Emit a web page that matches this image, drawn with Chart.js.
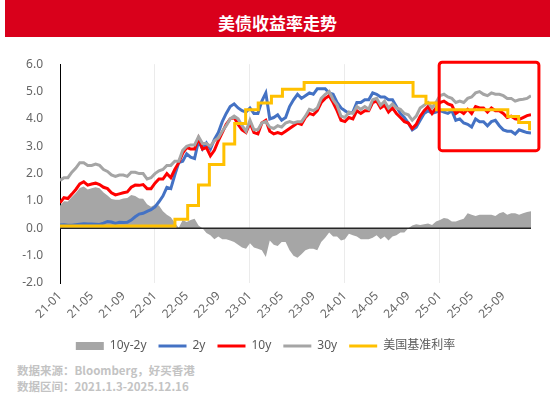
<!DOCTYPE html>
<html lang="zh">
<head>
<meta charset="UTF-8">
<title>美债收益率走势</title>
<script src="https://cdn.jsdelivr.net/npm/chart.js"></script>
<style>
  html, body { margin: 0; padding: 0; background: #fff; }
  body { width: 554px; height: 399px; position: relative; overflow: hidden; font-family: 'Noto Sans CJK SC', 'Noto Sans', sans-serif; }
  .titulo {
    position: absolute; left: 5px; top: 0; width: 545px; height: 33px; padding-top: 4px;
    background: #d9001b; color: #fff; font-weight: bold; font-size: 17px;
    text-align: center; line-height: 37px;
  }
  .grafico { position: absolute; left: 0; top: 40px; width: 554px; height: 322px; }
  .fuente {
    position: absolute; left: 17px; top: 362px; font-size: 11.5px; font-weight: bold;
    color: #c3c3c3; line-height: 16px;
  }
</style>
</head>
<body>
<div class="titulo">美债收益率走势</div>
<div class="grafico"><canvas id="grafico"></canvas></div>
<div class="fuente">数据来源：Bloomberg，好买香港<br>数据区间：2021.1.3-2025.12.16</div>

<script>
// meses desde 2021-01 ; series cada medio mes
const monthStep = 0.5;
const tickMonths = [0, 4, 8, 12, 16, 20, 24, 28, 32, 36, 40, 44, 48, 52, 56];
const tickLabels = ['21-01', '21-05', '21-09', '22-01', '22-05', '22-09', '23-01', '23-05',
  '23-09', '24-01', '24-05', '24-09', '25-01', '25-05', '25-09'];

const spread = [
  0.82, 0.99, 0.98, 1.14, 1.29, 1.47, 1.53, 1.42, 1.46, 1.50, 1.46, 1.31, 1.20, 1.07, 1.04, 1.04, 1.09, 1.11, 1.22, 1.18, 1.09, 1.08, 0.88, 0.79,
  0.87, 0.83, 0.62, 0.50, 0.40, 0.20, 0.02, 0.30, 0.23, 0.30, 0.35, 0.10, 0.00, -0.17, -0.25, -0.40, -0.30, -0.40, -0.40, -0.45, -0.50, -0.60, -0.70, -0.75,
  -0.55, -0.70, -0.75, -0.80, -1.05, -0.45, -0.60, -0.65, -0.50, -0.50, -0.80, -1.00, -1.08, -0.95, -0.80, -0.75, -0.75, -0.80, -0.50, -0.35, -0.15, -0.30, -0.30, -0.45,
  -0.40, -0.20, -0.25, -0.30, -0.40, -0.40, -0.40, -0.35, -0.25, -0.40, -0.30, -0.45, -0.30, -0.25, -0.15, -0.15, 0.00, 0.10, 0.15, 0.12, 0.15, 0.18, 0.12, 0.25,
  0.30, 0.38, 0.35, 0.25, 0.25, 0.30, 0.35, 0.55, 0.50, 0.45, 0.50, 0.50, 0.50, 0.50, 0.45, 0.55, 0.60, 0.50, 0.55, 0.55, 0.50, 0.55, 0.60, 0.62
];
const y2 = [
  0.12, 0.13, 0.11, 0.11, 0.13, 0.15, 0.17, 0.16, 0.16, 0.15, 0.14, 0.19, 0.25, 0.23, 0.18, 0.22, 0.21, 0.22, 0.30, 0.42, 0.52, 0.55, 0.62, 0.68,
  0.78, 0.97, 1.18, 1.50, 1.45, 1.95, 2.40, 2.45, 2.72, 2.60, 2.55, 3.20, 2.90, 3.12, 2.90, 3.25, 3.50, 3.90, 4.20, 4.45, 4.55, 4.40, 4.30, 4.25,
  4.40, 4.20, 4.20, 4.65, 4.95, 4.00, 4.05, 4.15, 3.95, 4.05, 4.45, 4.70, 4.90, 4.75, 4.85, 4.95, 4.90, 5.10, 5.10, 5.10, 4.95, 4.90, 4.60, 4.40,
  4.30, 4.20, 4.25, 4.60, 4.60, 4.70, 4.70, 4.95, 4.90, 4.80, 4.80, 4.70, 4.70, 4.45, 4.20, 4.05, 3.85, 3.60, 3.70, 3.95, 4.20, 4.30, 4.20, 4.25,
  4.30, 4.25, 4.20, 4.30, 3.95, 4.00, 3.85, 3.80, 3.70, 4.00, 3.90, 3.90, 3.75, 3.90, 3.95, 3.75, 3.60, 3.55, 3.55, 3.45, 3.60, 3.55, 3.50, 3.48
];
const y10 = [
  0.93, 1.12, 1.09, 1.25, 1.42, 1.62, 1.70, 1.58, 1.62, 1.65, 1.60, 1.50, 1.45, 1.30, 1.22, 1.26, 1.30, 1.33, 1.50, 1.58, 1.57, 1.60, 1.45, 1.45,
  1.65, 1.80, 1.80, 2.00, 1.85, 2.15, 2.40, 2.75, 2.95, 2.90, 2.90, 3.30, 2.90, 2.95, 2.65, 2.85, 3.20, 3.50, 3.80, 4.00, 4.05, 3.80, 3.60, 3.50,
  3.85, 3.50, 3.45, 3.85, 3.95, 3.55, 3.45, 3.50, 3.45, 3.55, 3.65, 3.75, 3.85, 3.80, 4.05, 4.20, 4.15, 4.30, 4.60, 4.75, 4.85, 4.60, 4.30, 3.95,
  3.90, 4.05, 4.00, 4.30, 4.20, 4.30, 4.30, 4.60, 4.65, 4.40, 4.50, 4.25, 4.40, 4.20, 4.05, 3.90, 3.85, 3.65, 3.80, 4.10, 4.30, 4.45, 4.20, 4.40,
  4.60, 4.65, 4.55, 4.50, 4.20, 4.30, 4.20, 4.35, 4.20, 4.45, 4.40, 4.40, 4.25, 4.40, 4.30, 4.30, 4.20, 4.05, 4.10, 4.00, 3.98, 4.05, 4.12, 4.15
];
const y30 = [
  1.75, 1.85, 1.85, 2.05, 2.20, 2.40, 2.40, 2.30, 2.30, 2.35, 2.30, 2.15, 2.08, 1.95, 1.90, 1.95, 1.95, 1.90, 2.05, 2.05, 2.00, 2.00, 1.80, 1.85,
  2.00, 2.10, 2.15, 2.30, 2.30, 2.45, 2.45, 2.85, 3.00, 3.05, 3.05, 3.35, 3.10, 3.10, 3.00, 3.20, 3.30, 3.55, 3.75, 4.00, 4.10, 4.00, 3.75, 3.55,
  3.95, 3.60, 3.60, 3.85, 3.90, 3.70, 3.65, 3.75, 3.70, 3.85, 3.90, 3.85, 3.90, 3.90, 4.10, 4.35, 4.30, 4.40, 4.75, 4.90, 5.00, 4.70, 4.50, 4.10,
  4.05, 4.25, 4.20, 4.45, 4.35, 4.45, 4.35, 4.70, 4.75, 4.50, 4.65, 4.40, 4.55, 4.40, 4.35, 4.20, 4.15, 3.95, 4.10, 4.40, 4.50, 4.60, 4.40, 4.60,
  4.85, 4.90, 4.80, 4.75, 4.60, 4.65, 4.60, 4.75, 4.80, 4.95, 5.00, 4.90, 4.85, 4.95, 4.90, 4.90, 4.85, 4.75, 4.75, 4.65, 4.70, 4.72, 4.75, 4.85
];
// 美国基准利率: mes del cambio y nivel
const fedMonths = [0, 14.52, 16.13, 17.5, 18.87, 20.7, 22.07, 23.45, 25.04, 26.71, 28.1, 30.84, 44.6, 46.23, 47.58, 56.57, 57.94, 59.32, 59.5];
const fedRate = [0.08, 0.33, 0.83, 1.58, 2.33, 3.08, 3.83, 4.33, 4.58, 4.83, 5.08, 5.33, 4.83, 4.58, 4.33, 4.09, 3.87, 3.64, 3.64];

// recuadro rojo (meses / valores)
const recuadro = { x0: 47.9, x1: 60.5, yTop: 6.07, yBottom: 2.84 };

const conX = arr => arr.map((v, i) => ({ x: i * monthStep, y: v }));

const lineaCero = {
  id: 'lineaCero',
  afterDatasetDraw(chart, args) {
    if (args.index !== 0) return;
    const { ctx, chartArea, scales } = chart;
    const y0 = scales.y.getPixelForValue(0);
    ctx.save();
    ctx.strokeStyle = '#262626';
    ctx.lineWidth = 1.5;
    ctx.beginPath();
    ctx.moveTo(chartArea.left, y0);
    ctx.lineTo(chartArea.right, y0);
    ctx.stroke();
    ctx.restore();
  }
};

const marcoRojo = {
  id: 'marcoRojo',
  afterDraw(chart) {
    const { ctx, scales } = chart;
    const x0 = scales.x.getPixelForValue(recuadro.x0);
    const x1 = scales.x.getPixelForValue(recuadro.x1);
    const y0 = scales.y.getPixelForValue(recuadro.yTop);
    const y1 = scales.y.getPixelForValue(recuadro.yBottom);
    ctx.save();
    ctx.strokeStyle = '#ff0000';
    ctx.lineWidth = 3;
    ctx.beginPath();
    ctx.roundRect(x0, y0, x1 - x0, y1 - y0, 3);
    ctx.stroke();
    ctx.restore();
  }
};

const fuenteTxt = { family: "'Noto Sans', 'Noto Sans CJK SC', sans-serif", size: 12 };

new Chart(document.getElementById('grafico'), {
  type: 'line',
  data: {
    datasets: [
      { label: '10y-2y', data: conX(spread), fill: 'origin', backgroundColor: '#a6a6a6',
        borderColor: '#a6a6a6', borderWidth: 0, pointStyle: 'rect', order: 5 },
      { label: '2y', data: conX(y2), borderColor: '#4472c4', backgroundColor: '#4472c4',
        borderWidth: 3, pointStyle: 'line', order: 3 },
      { label: '10y', data: conX(y10), borderColor: '#ff0000', backgroundColor: '#ff0000',
        borderWidth: 3, pointStyle: 'line', order: 2 },
      { label: '30y', data: conX(y30), borderColor: '#a5a5a5', backgroundColor: '#a5a5a5',
        borderWidth: 3, pointStyle: 'line', order: 1 },
      { label: '美国基准利率', data: fedMonths.map((m, i) => ({ x: m, y: fedRate[i] })),
        borderColor: '#ffc000', backgroundColor: '#ffc000', borderWidth: 3, stepped: true,
        pointStyle: 'line', order: 0 }
    ]
  },
  options: {
    responsive: true,
    maintainAspectRatio: false,
    animation: false,
    elements: { point: { radius: 0, hoverRadius: 0 }, line: { tension: 0 } },
    layout: { padding: { top: 19, right: 23, left: 0, bottom: 0 } },
    scales: {
      x: {
        type: 'linear', min: 0, max: 59.5,
        afterBuildTicks: s => { s.ticks = tickMonths.map(v => ({ value: v })); },
        afterFit: s => { s.height = 45; },
        ticks: {
          autoSkip: false, minRotation: 45, maxRotation: 45, padding: 6, color: '#666', font: fuenteTxt,
          callback: v => tickLabels[tickMonths.indexOf(v)]
        },
        grid: {
          drawTicks: false,
          color: c => (c.tick && c.tick.value > 0 && c.tick.value % 12 === 0) ? '#ebebeb' : 'rgba(0,0,0,0)'
        },
        border: { display: false }
      },
      y: {
        min: -2, max: 6,
        afterFit: s => { s.width = 60; },
        ticks: { stepSize: 1, padding: 17, color: '#666', font: fuenteTxt, callback: v => v.toFixed(1) },
        grid: { drawTicks: false, color: 'rgba(0,0,0,0)' },
        border: { display: true, color: '#000', width: 1 }
      }
    },
    plugins: {
      legend: {
        position: 'bottom',
        labels: {
          usePointStyle: true, pointStyleWidth: 28, boxHeight: 8, padding: 12,
          color: '#595959', font: fuenteTxt,
          sort: (a, b) => a.datasetIndex - b.datasetIndex
        }
      },
      tooltip: { enabled: false }
    }
  },
  plugins: [lineaCero, marcoRojo]
});
</script>
</body>
</html>
